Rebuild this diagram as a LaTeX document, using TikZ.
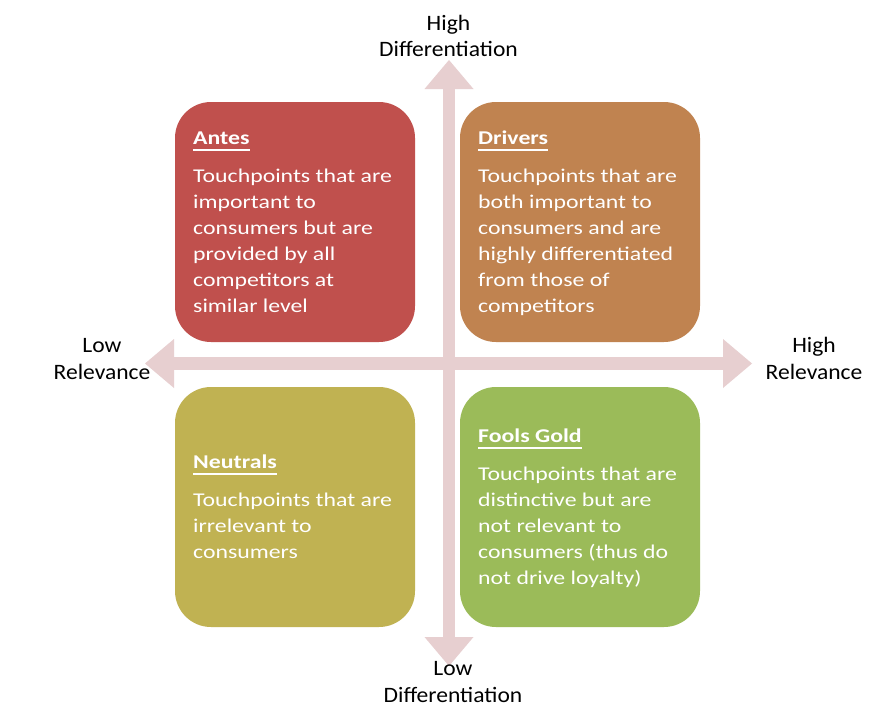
\documentclass[tikz,border=0pt]{standalone}
\usepackage{fontspec}
\setmainfont{Carlito}
\newfontfamily\boxfont{Carlito}[FakeStretch=1.22]
\newfontfamily\axisfont{Carlito}[FakeStretch=1.07]
\usetikzlibrary{arrows.meta}
\definecolor{antesc}{RGB}{192,80,77}
\definecolor{driversc}{RGB}{192,131,80}
\definecolor{neutralsc}{RGB}{192,178,82}
\definecolor{foolsc}{RGB}{155,187,89}
\definecolor{axisc}{RGB}{231,207,208}
\newsavebox\myulbox
\newcommand\myul[1]{\sbox\myulbox{#1}\rlap{\rule[-6.5pt]{\wd\myulbox}{1.5pt}}\usebox\myulbox}
\tikzset{
  quad/.style={rounded corners=36pt, minimum width=240pt, minimum height=240pt, inner sep=0pt, draw=none},
  bodytext/.style={anchor=base west, inner sep=0pt, text=white, font=\boxfont\fontsize{19.5}{26}\selectfont},
  titletext/.style={anchor=base west, inner sep=0pt, text=white, font=\boxfont\bfseries\fontsize{19.5}{26}\selectfont},
  axislabel/.style={anchor=base, inner sep=0pt, text=black, font=\axisfont\fontsize{22}{28}\selectfont},
  axisarrow/.style={draw=axisc, line width=12.5pt,
    {Triangle[width=49pt,length=29pt,line width=0pt]}-{Triangle[width=49pt,length=29pt,line width=0pt]}}
}
\begin{document}
\begin{tikzpicture}[x=1pt,y=-1pt]
\useasboundingbox (0,0) rectangle (881,717);
\fill[white] (0,0) rectangle (881,717);
% axes
\coordinate (lt) at (145,363.5);
\coordinate (rt) at (752,363.5);
\coordinate (tp) at (449,60);
\coordinate (bt) at (449,666);
\draw[axisarrow] (lt) -- (rt);
\draw[axisarrow] (tp) -- (bt);
% boxes
\node[quad, fill=antesc] (antes) at (295,222) {};
\node[quad, fill=driversc] (drivers) at (580,222) {};
\node[quad, fill=neutralsc] (neutrals) at (295,507) {};
\node[quad, fill=foolsc] (fools) at (580,507) {};
% titles
\node[titletext] (antesT) at (193,144) {\myul{Antes}};
\node[titletext] (driversT) at (478,144) {\myul{Drivers}};
\node[titletext] (neutralsT) at (193,468) {\myul{Neutrals}};
\node[titletext] (foolsT) at (478,442) {\myul{Fools Gold}};
% bodies
\foreach \t [count=\i from 0] in {Touchpoints that are, important to, consumers but are, provided by all, competitors at, similar level}
  \node[bodytext] (antesL\i) at (193,{182+26*\i}) {\t};
\foreach \t [count=\i from 0] in {Touchpoints that are, both important to, consumers and are, highly differentiated, from those of, competitors}
  \node[bodytext] (driversL\i) at (478,{182+26*\i}) {\t};
\foreach \t [count=\i from 0] in {Touchpoints that are, irrelevant to, consumers}
  \node[bodytext] (neutralsL\i) at (193,{506+26*\i}) {\t};
\foreach \t [count=\i from 0] in {Touchpoints that are, distinctive but are, not relevant to, consumers (thus do, not drive loyalty)}
  \node[bodytext] (foolsL\i) at (478,{480+26*\i}) {\t};
% axis labels
\node[axislabel] (hd1) at (448.5,31) {High};
\node[axislabel] (hd2) at (448.5,57) {Differentiation};
\node[axislabel] (ld1) at (453,675) {Low};
\node[axislabel] (ld2) at (453,702) {Differentiation};
\node[axislabel] (lr1) at (102,352) {Low};
\node[axislabel] (lr2) at (102,379) {Relevance};
\node[axislabel] (hr1) at (814,352) {High};
\node[axislabel] (hr2) at (814,379) {Relevance};
\end{tikzpicture}
\end{document}
